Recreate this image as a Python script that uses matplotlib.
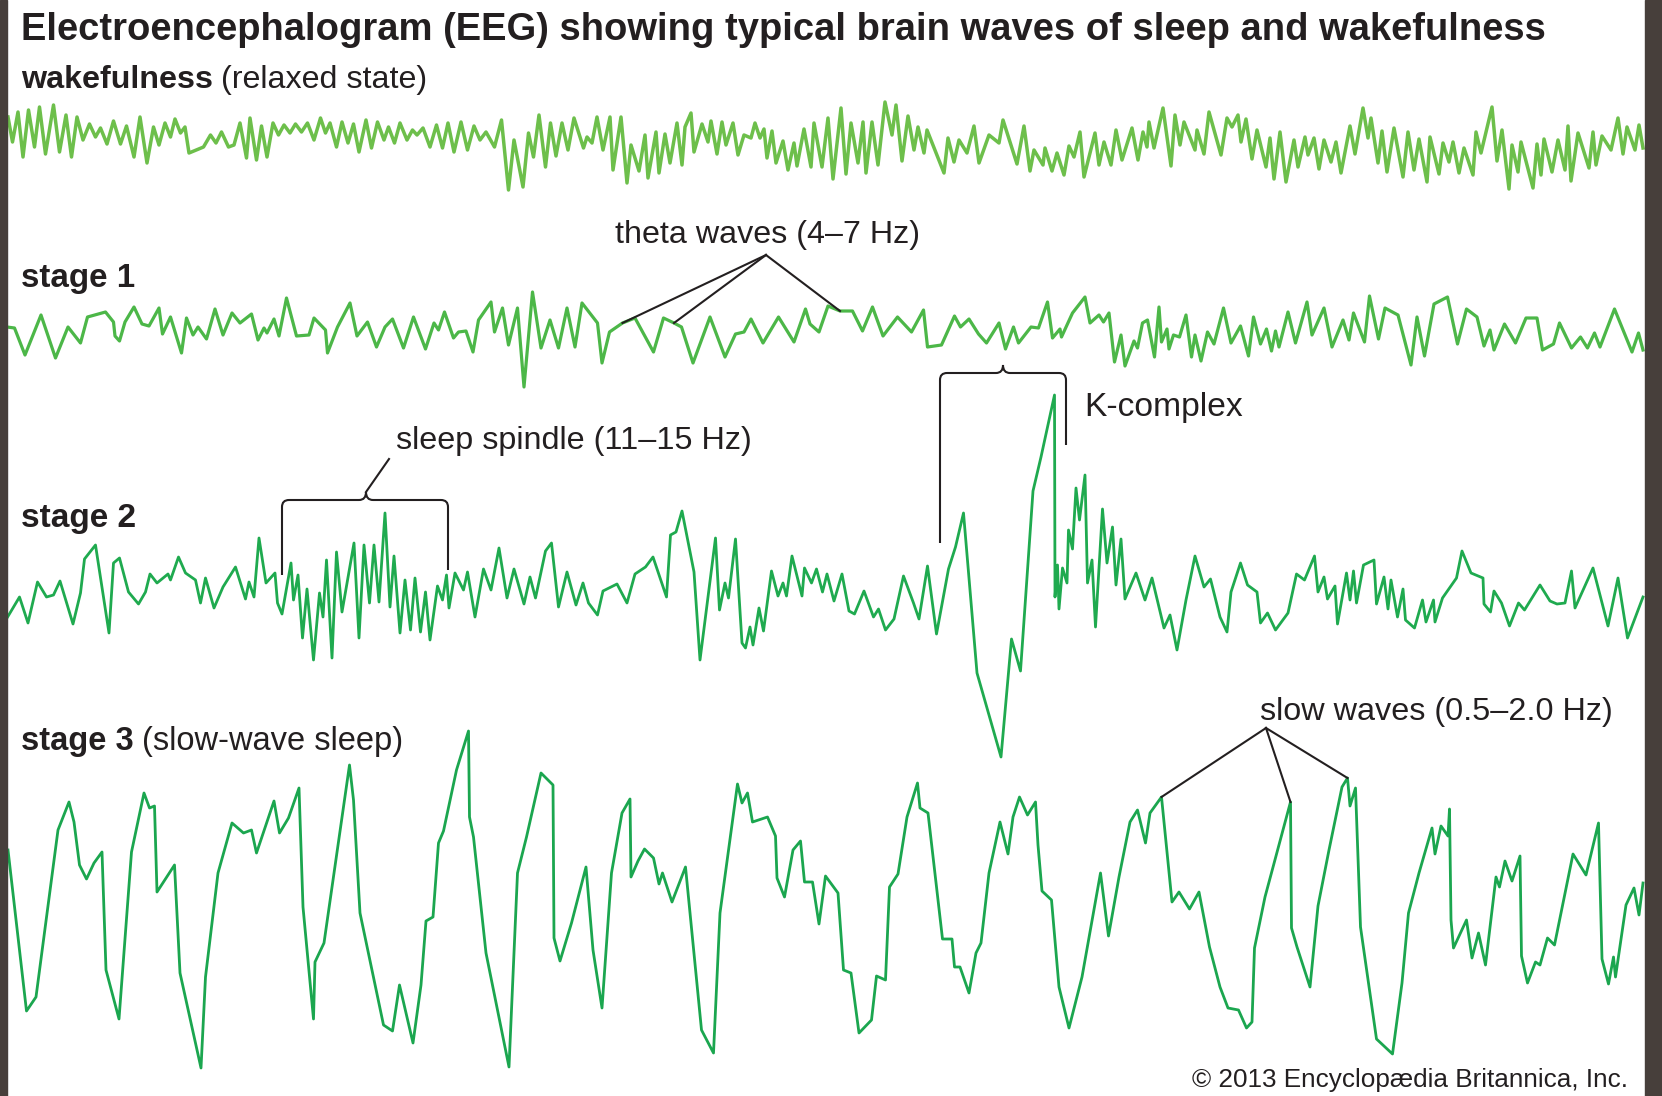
import matplotlib
matplotlib.use("Agg")
import matplotlib.pyplot as plt
from matplotlib.path import Path
from matplotlib.patches import PathPatch, Rectangle
import numpy as np

plt.rcParams["font.family"] = ["Liberation Sans", "DejaVu Sans"]

# EEG vertices: (time in s, amplitude in uV)
wake = np.array([
    (0.16, 25), (0.25, 0), (0.36, 30), (0.46, -15), (0.57, 32), (0.69, -5), (0.79, 35), (0.91, -12),
    (1.07, 37), (1.19, -10), (1.32, 27), (1.43, -15), (1.54, 25), (1.66, 2), (1.79, 18), (1.91, 5),
    (2.01, 14), (2.14, -2), (2.27, 21), (2.41, -2), (2.53, 16), (2.68, -15), (2.80, 25), (2.94, -21),
    (3.07, 15), (3.18, -3), (3.30, 19), (3.41, 5), (3.50, 23), (3.61, 9), (3.70, 15), (3.78, -11),
    (4.07, -5), (4.21, 7), (4.32, -1), (4.43, 10), (4.57, -5), (4.68, -3), (4.80, 19), (4.93, -16),
    (5.00, 24), (5.13, -18), (5.23, 16), (5.34, -15), (5.46, 19), (5.57, 7), (5.68, 17), (5.80, 9),
    (5.91, 18), (6.03, 10), (6.15, 19), (6.28, 2), (6.41, 24), (6.51, 9), (6.60, 19), (6.73, -5),
    (6.84, 20), (6.96, -1), (7.07, 18), (7.18, -10), (7.32, 22), (7.43, -6), (7.55, 20), (7.68, 2),
    (7.77, 15), (7.89, -1), (8.00, 19), (8.14, 2), (8.25, 12), (8.34, 7), (8.46, 14), (8.60, -5),
    (8.73, 17), (8.85, -6), (8.96, 19), (9.08, -10), (9.22, 20), (9.35, -8), (9.48, 16), (9.60, 2),
    (9.72, 10), (9.89, -5), (10.03, 22), (10.17, -48), (10.28, 2), (10.46, -45), (10.57, 9), (10.67, -15),
    (10.78, 27), (10.91, -25), (11.01, 19), (11.12, -14), (11.24, 19), (11.36, -8), (11.48, 24), (11.67, -6),
    (11.74, 5), (11.84, -1), (11.94, 25), (12.06, -8), (12.20, 25), (12.26, -28), (12.42, 25), (12.54, -41),
    (12.62, -3), (12.78, -29), (12.90, 7), (12.96, -36), (13.12, 10), (13.18, -31), (13.30, 8), (13.40, -21),
    (13.54, 19), (13.64, -23), (13.70, 15), (13.82, 29), (13.88, -10), (14.04, 18), (14.16, 0), (14.22, 21),
    (14.34, -12), (14.44, 20), (14.52, -3), (14.66, 19), (14.76, -13), (14.88, 7), (15.02, 4), (15.10, 19),
    (15.20, 4), (15.28, 13), (15.34, -16), (15.44, 11), (15.52, -21), (15.66, 1), (15.76, -28), (15.88, -1),
    (15.94, -24), (16.08, 13), (16.22, -25), (16.28, 19), (16.44, -25), (16.56, 24), (16.66, -37), (16.82, 34),
    (16.92, -32), (17.02, 19), (17.16, -21), (17.26, 20), (17.32, -31), (17.44, 20), (17.56, -23), (17.70, 40),
    (17.84, 7), (17.92, 37), (18.04, -19), (18.16, 26), (18.28, -8), (18.36, 15), (18.48, -11), (18.54, 12),
    (18.88, -31), (18.96, 4), (19.08, -20), (19.18, 2), (19.34, -11), (19.48, 16), (19.58, -21), (19.78, 7),
    (19.98, -1), (20.06, 22), (20.34, -22), (20.48, 16), (20.60, -29), (20.68, -8), (20.86, -23), (20.90, -6),
    (21.04, -29), (21.14, -11), (21.28, -33), (21.38, -4), (21.48, -15), (21.60, 10), (21.68, -35), (21.90, 9),
    (21.98, -23), (22.08, 0), (22.22, -23), (22.32, 12), (22.44, -18), (22.64, 14), (22.76, -18), (22.86, 10),
    (22.94, -5), (22.98, 20), (23.08, -6), (23.26, 34), (23.42, -24), (23.50, 27), (23.60, -3), (23.68, 20),
    (23.90, -8), (23.94, 12), (24.08, -12), (24.18, 30), (24.42, -13), (24.54, 24), (24.64, 15), (24.76, 27),
    (24.82, 0), (24.92, 23), (25.04, -17), (25.14, 12), (25.32, -25), (25.40, 4), (25.48, -37), (25.60, 10),
    (25.72, -40), (25.88, 2), (25.96, -25), (26.10, 5), (26.16, -13), (26.28, 4), (26.38, -27), (26.48, 2),
    (26.62, -20), (26.72, 0), (26.82, -31), (27.00, 16), (27.10, -12), (27.26, 34), (27.36, 4), (27.42, 24),
    (27.56, -21), (27.64, 11), (27.74, -30), (27.88, 14), (28.06, -35), (28.16, 10), (28.28, -28), (28.38, 3),
    (28.54, -40), (28.60, 5), (28.78, -32), (28.86, -1), (28.98, -20), (29.06, 0), (29.18, -31), (29.28, -6),
    (29.46, -33), (29.52, 10), (29.62, -11), (29.84, 35), (29.94, -19), (30.04, 12), (30.18, -47), (30.24, -3),
    (30.36, -30), (30.42, 0), (30.66, -46), (30.74, -2), (30.82, -33), (30.88, 3), (31.04, -30), (31.16, 2),
    (31.30, -28), (31.36, 16), (31.42, -39), (31.56, 9), (31.78, -26), (31.86, 10), (31.92, -23), (32.04, 6),
    (32.22, -8), (32.36, 24), (32.46, -12), (32.54, 15), (32.70, -8), (32.78, 17), (32.86, -6),
])

stage1 = np.array([
    (0.14, 6), (0.29, 5), (0.50, -22), (0.82, 18), (1.11, -25), (1.36, 6), (1.61, -10), (1.75, 16),
    (2.11, 21), (2.27, 11), (2.30, -3), (2.39, -8), (2.50, 11), (2.68, 26), (2.84, 9), (2.98, 7),
    (3.18, 25), (3.25, -1), (3.41, 16), (3.63, -20), (3.73, 15), (3.86, -2), (3.96, 6), (4.13, -6),
    (4.30, 24), (4.46, -2), (4.64, 20), (4.80, 10), (5.03, 19), (5.16, -7), (5.28, 5), (5.34, 0),
    (5.48, 14), (5.58, -3), (5.73, 35), (5.93, -3), (6.18, -2), (6.28, 15), (6.51, 3), (6.55, -20),
    (6.75, 6), (7.00, 30), (7.14, -3), (7.35, 11), (7.53, -14), (7.70, 6), (7.85, 14), (8.07, -15),
    (8.27, 16), (8.51, -16), (8.68, 10), (8.77, 3), (8.89, 21), (9.07, -5), (9.17, 1), (9.32, 2),
    (9.46, -19), (9.57, 13), (9.82, 31), (9.89, 1), (10.05, 25), (10.17, -12), (10.35, 25), (10.48, -54),
    (10.65, 41), (10.82, -15), (11.00, 13), (11.17, -15), (11.34, 25), (11.50, -14), (11.64, 30), (11.95, 10),
    (12.04, -30), (12.19, 1), (12.45, 10), (12.70, 15), (13.07, -19), (13.27, 15), (13.48, 10), (13.63, 6),
    (13.86, -30), (14.20, 16), (14.50, -24), (14.71, -1), (14.88, 1), (15.02, 14), (15.26, -10), (15.57, 16),
    (15.88, -9), (16.11, 24), (16.20, 9), (16.38, 1), (16.56, 27), (16.80, 22), (17.05, 22), (17.25, 2),
    (17.45, 26), (17.66, -3), (17.95, 16), (18.23, 1), (18.47, 23), (18.55, -14), (18.83, -12), (19.09, 17),
    (19.21, 6), (19.38, 14), (19.57, -1), (19.73, -10), (19.98, 10), (20.11, -16), (20.27, 6), (20.37, -10),
    (20.62, 6), (20.77, 5), (20.95, 31), (21.05, -5), (21.20, 4), (21.23, -4), (21.45, 20), (21.70, 36),
    (21.80, 10), (21.98, 18), (22.07, 11), (22.18, 20), (22.29, -29), (22.42, -2), (22.50, -33), (22.68, -8),
    (22.75, -15), (22.85, 10), (22.95, 13), (23.09, -24), (23.18, 26), (23.23, -9), (23.34, 4), (23.38, -16),
    (23.47, -2), (23.59, -4), (23.72, 18), (23.83, -24), (23.90, -2), (24.02, -28), (24.15, 1), (24.28, -11),
    (24.47, 25), (24.62, -10), (24.81, 7), (24.97, -23), (25.07, 16), (25.21, -11), (25.33, 4), (25.43, -18),
    (25.51, 2), (25.58, -14), (25.76, 21), (25.91, -10), (26.14, 31), (26.24, -2), (26.48, 25), (26.64, -14),
    (26.86, 13), (26.98, -7), (27.07, 20), (27.29, -9), (27.39, 37), (27.57, -6), (27.70, 25), (27.96, 18),
    (28.22, -32), (28.34, 16), (28.49, -23), (28.68, 29), (28.95, 36), (29.15, -11), (29.33, 24), (29.54, 16),
    (29.68, -13), (29.80, 3), (29.88, -17), (30.09, 9), (30.31, -10), (30.52, 15), (30.74, 15), (30.85, -17),
    (31.07, -11), (31.19, 10), (31.43, -15), (31.61, -4), (31.75, -15), (31.89, 0), (32.00, -14), (32.29, 24),
    (32.64, -19), (32.77, 0), (32.86, -17),
])

stage2 = np.array([
    (0.14, -28), (0.39, -7), (0.56, -33), (0.75, 8), (0.93, -7), (1.07, -5), (1.20, 9), (1.46, -34),
    (1.61, -3), (1.69, 31), (1.91, 45), (2.18, -43), (2.27, 27), (2.39, 32), (2.57, -2), (2.77, -14),
    (2.91, -2), (3.00, 16), (3.14, 7), (3.36, 16), (3.41, 10), (3.57, 33), (3.71, 17), (3.91, 10),
    (4.01, -13), (4.11, 12), (4.28, -18), (4.46, 3), (4.71, 23), (4.91, -9), (4.98, 8), (5.08, -7),
    (5.18, 52), (5.32, 7), (5.50, 17), (5.55, -13), (5.64, -24), (5.82, 27), (5.87, -10), (5.96, 15),
    (6.05, -48), (6.14, 1), (6.27, -70), (6.39, -3), (6.46, -27), (6.53, 30), (6.64, -68), (6.73, 38),
    (6.84, -22), (7.08, 47), (7.18, -48), (7.28, 45), (7.39, -13), (7.48, 45), (7.58, -12), (7.70, 77),
    (7.80, -17), (7.88, 34), (8.00, -43), (8.10, 10), (8.21, -40), (8.30, 12), (8.41, -42), (8.51, -2),
    (8.60, -50), (8.75, 4), (8.85, -10), (8.93, 15), (8.98, -18), (9.10, 17), (9.27, 0), (9.35, 18),
    (9.50, -27), (9.67, 21), (9.82, 0), (9.98, 42), (10.14, -8), (10.28, 21), (10.48, -14), (10.60, 13),
    (10.71, -8), (10.91, 39), (11.03, 47), (11.17, -17), (11.34, 18), (11.52, -15), (11.66, 7), (11.77, -13),
    (11.95, -25), (12.06, -1), (12.34, 6), (12.54, -13), (12.70, 16), (12.91, 23), (13.06, 33), (13.33, -7),
    (13.41, 55), (13.52, 58), (13.64, 79), (13.88, 18), (14.00, -70), (14.31, 52), (14.39, -20), (14.50, 7),
    (14.57, -8), (14.71, 51), (14.84, -53), (14.91, -58), (15.00, -37), (15.06, -55), (15.18, -18), (15.27, -41),
    (15.43, 19), (15.56, -6), (15.66, 7), (15.73, -6), (15.84, 34), (16.04, -6), (16.09, 22), (16.23, 7),
    (16.33, 21), (16.45, -2), (16.54, 16), (16.68, -11), (16.84, 16), (16.98, -21), (17.09, -24), (17.28, -1),
    (17.47, -27), (17.57, -19), (17.71, -40), (17.88, -29), (18.07, 14), (18.27, -13), (18.38, -29), (18.55, 24),
    (18.73, -44), (18.97, 21), (19.11, 43), (19.27, 77), (19.54, -83), (20.02, -167), (20.23, -49), (20.41, -81),
    (20.66, 99), (20.82, 133), (21.09, 195), (21.10, -7), (21.15, 25), (21.18, -19), (21.25, 22), (21.34, 7),
    (21.37, 60), (21.45, 41), (21.52, 102), (21.59, 70), (21.70, 115), (21.75, 7), (21.84, 30), (21.91, -37),
    (22.05, 81), (22.14, 27), (22.25, 63), (22.32, 5), (22.42, 51), (22.50, -9), (22.72, 17), (22.90, -10),
    (23.04, 12), (23.28, -38), (23.40, -25), (23.54, -60), (23.72, -10), (23.90, 34), (24.08, 3), (24.21, 11),
    (24.40, -27), (24.54, -42), (24.62, -2), (24.81, 27), (24.95, 5), (25.14, -2), (25.21, -33), (25.35, -23),
    (25.51, -40), (25.76, -23), (25.93, 16), (26.09, 10), (26.29, 34), (26.36, -2), (26.48, 13), (26.55, -9),
    (26.70, 4), (26.75, -34), (26.93, 17), (27.00, -10), (27.07, 19), (27.13, -13), (27.27, 25), (27.48, 30),
    (27.53, -14), (27.68, 13), (27.76, -19), (27.82, 10), (27.95, -27), (28.06, 1), (28.11, -30), (28.29, -38),
    (28.45, -10), (28.52, -32), (28.67, -10), (28.70, -32), (28.85, -8), (29.13, 12), (29.24, 39), (29.42, 17),
    (29.66, 12), (29.68, -14), (29.81, -22), (29.88, -1), (30.03, -13), (30.19, -36), (30.37, -13), (30.49, -20),
    (30.80, 5), (31.00, -11), (31.14, -14), (31.30, -13), (31.43, 19), (31.50, -18), (31.86, 22), (32.16, -36),
    (32.36, 12), (32.55, -48), (32.86, -7),
])

stage3 = np.array([
    (0.16, 30), (0.53, -131), (0.72, -117), (1.16, 50), (1.38, 78), (1.48, 58), (1.59, 15), (1.73, 1),
    (1.88, 17), (2.04, 28), (2.12, -90), (2.38, -139), (2.63, 28), (2.88, 87), (2.99, 72), (3.09, 74),
    (3.14, -12), (3.49, 15), (3.60, -93), (4.02, -188), (4.11, -97), (4.36, 7), (4.64, 57), (4.87, 47),
    (5.03, 50), (5.13, 27), (5.48, 79), (5.59, 47), (5.77, 62), (5.98, 92), (6.06, -27), (6.27, -139),
    (6.30, -82), (6.48, -63), (6.99, 115), (7.07, 80), (7.20, -33), (7.67, -145), (7.85, -151), (7.99, -105),
    (8.26, -163), (8.42, -105), (8.52, -41), (8.66, -37), (8.77, 37), (8.87, 49), (9.13, 110), (9.37, 149),
    (9.39, 63), (9.47, 43), (9.72, -73), (10.18, -187), (10.35, 7), (10.53, 43), (10.82, 107), (11.06, 95),
    (11.08, -58), (11.20, -81), (11.43, -43), (11.72, 13), (11.86, -70), (12.04, -128), (12.23, 7), (12.44, 67),
    (12.60, 81), (12.62, 3), (12.76, 19), (12.89, 31), (13.07, 22), (13.18, -4), (13.25, 7), (13.44, -22),
    (13.71, 13), (14.03, -150), (14.27, -173), (14.40, -33), (14.75, 96), (14.84, 77), (14.95, 87), (15.05, 58),
    (15.35, 63), (15.51, 44), (15.54, 2), (15.69, -17), (15.86, 30), (16.01, 39), (16.09, -2), (16.25, -2),
    (16.38, -44), (16.51, 4), (16.76, -13), (16.87, -90), (17.02, -93), (17.18, -153), (17.43, -140), (17.53, -96),
    (17.71, -100), (17.79, -7), (17.96, 6), (18.14, 63), (18.35, 97), (18.40, 72), (18.56, 67), (18.85, -59),
    (19.04, -59), (19.09, -87), (19.20, -87), (19.38, -113), (19.52, -73), (19.62, -63), (19.78, 7), (20.00, 58),
    (20.16, 26), (20.26, 63), (20.39, 83), (20.55, 65), (20.71, 78), (20.76, 35), (20.84, -11), (21.03, -20),
    (21.18, -107), (21.38, -148), (21.64, -97), (22.01, 7), (22.17, -56), (22.38, 3), (22.60, 58), (22.75, 70),
    (22.91, 37), (23.00, 67), (23.23, 83), (23.44, -22), (23.58, -12), (23.79, -29), (23.98, -12), (24.19, -67),
    (24.40, -107), (24.56, -128), (24.77, -130), (24.93, -148), (25.04, -142), (25.09, -68), (25.30, -17), (25.81, 78),
    (25.83, -48), (25.94, -67), (26.20, -107), (26.36, -26), (26.58, 30), (26.84, 93), (26.95, 102), (27.00, 74),
    (27.11, 92), (27.16, 23), (27.21, -47), (27.53, -159), (27.85, -174), (28.04, -103), (28.17, -33), (28.38, 7),
    (28.64, 52), (28.70, 26), (28.82, 54), (28.96, 44), (28.99, 71), (29.02, -40), (29.07, -68), (29.33, -40),
    (29.44, -78), (29.57, -53), (29.71, -85), (29.92, 3), (29.99, -7), (30.10, 19), (30.24, -1), (30.40, 24),
    (30.43, -76), (30.55, -103), (30.71, -82), (30.80, -85), (30.95, -58), (31.09, -65), (31.46, 26), (31.72, 5),
    (31.97, 57), (32.04, -79), (32.17, -104), (32.27, -77), (32.31, -97), (32.52, -25), (32.68, -8), (32.78, -35),
    (32.86, -3),
])

# vertices the annotation lines point at (s)
theta_marks = [12.45, 13.48, 16.80]
slow_marks = [23.23, 25.81, 26.95]

INK = "#231f20"
W, H = 1662, 1096
fig = plt.figure(figsize=(W / 100, H / 100), dpi=100)
fig.patch.set_facecolor("white")

# traces: 50 px per second, 1 px per uV, channels stacked downward
ax = fig.add_axes([0, 0, 1, 1])
ax.set_xlim(0, W / 50)
ax.set_ylim(-H, 0)
ax.axis("off")

rows = [
    (wake, 142, "#6dbf4b", 2.5),
    (stage1, 333, "#4cb748", 2.3),
    (stage2, 590, "#1faa4f", 2.0),
    (stage3, 880, "#1ba64f", 2.0),
]
for sig, base, col, lw in rows:
    ax.plot(sig[:, 0], sig[:, 1] - base, color=col, lw=lw)


def at(sig, base, t):
    i = np.argmin(np.abs(sig[:, 0] - t))
    return sig[i, 0] * 50, base - sig[i, 1]


# overlay in pixel units for text and brackets
lay = fig.add_axes([0, 0, 1, 1], facecolor="none")
lay.set_xlim(0, W)
lay.set_ylim(H, 0)
lay.axis("off")

r = fig.canvas.get_renderer()


def label(x0, x1, y, parts, size=16):
    ts = [lay.text(0, y, s, fontsize=size, fontweight=wt, color=INK, va="baseline")
          for s, wt in parts]
    ws = [t.get_window_extent(r).width for t in ts]
    gap = 0.27 * size * 100 / 72
    k = (x1 - x0) / (sum(ws) + gap * (len(parts) - 1))
    x = x0
    for t, w in zip(ts, ws):
        t.set_fontsize(size * k)
        t.set_x(x)
        x += (w + gap) * k


label(21, 1543, 40, [("Electroencephalogram (EEG) showing typical brain waves of sleep and wakefulness", "bold")])
label(21, 428, 88, [("wakefulness", "bold"), ("(relaxed state)", "normal")])
label(21, 135, 287, [("stage 1", "bold")])
label(615, 921, 243, [("theta waves (4\u20137 Hz)", "normal")])
label(396, 753, 449, [("sleep spindle (11\u201315 Hz)", "normal")])
label(1084, 1243, 416, [("K-complex", "normal")])
label(21, 136, 527, [("stage 2", "bold")])
label(21, 404, 750, [("stage 3", "bold"), ("(slow-wave sleep)", "normal")])
label(1260, 1613, 720, [("slow waves (0.5\u20132.0 Hz)", "normal")])
label(1192, 1630, 1087, [("\u00a9 2013 Encyclop\u00e6dia Britannica, Inc.", "normal")])

# pointer fans
for apex, sig, base, marks in [((766, 255), stage1, 333, theta_marks),
                               ((1266, 728), stage3, 880, slow_marks)]:
    for t in marks:
        x, y = at(sig, base, t)
        lay.plot([apex[0], x], [apex[1], y], color=INK, lw=1.5)


def bracket(xl, xr, xm, top, yl, yr, rad=7, cusp=8):
    verts = [(xl, yl), (xl, top + rad), (xl, top), (xl + rad, top),
             (xm - rad, top), (xm, top), (xm, top - cusp),
             (xm, top), (xm + rad, top), (xr - rad, top), (xr, top), (xr, top + rad), (xr, yr)]
    codes = [Path.MOVETO, Path.LINETO, Path.CURVE3, Path.CURVE3,
             Path.LINETO, Path.CURVE3, Path.CURVE3,
             Path.CURVE3, Path.CURVE3, Path.LINETO, Path.CURVE3, Path.CURVE3, Path.LINETO]
    lay.add_patch(PathPatch(Path(verts, codes), fill=False, ec=INK, lw=1.5))


bracket(282, 448, 366, 500, 575, 570)
lay.plot([366, 389], [492, 459], color=INK, lw=1.5)
bracket(940, 1066, 1003, 373, 543, 445)

# dark frame edges
fig.patches.append(Rectangle((0, 0), 7 / W, 1, transform=fig.transFigure, color="#473f3b", zorder=10))
fig.patches.append(Rectangle((1645 / W, 0), 17 / W, 1, transform=fig.transFigure, color="#473f3b", zorder=10))

fig.savefig("out.png", dpi=100)
